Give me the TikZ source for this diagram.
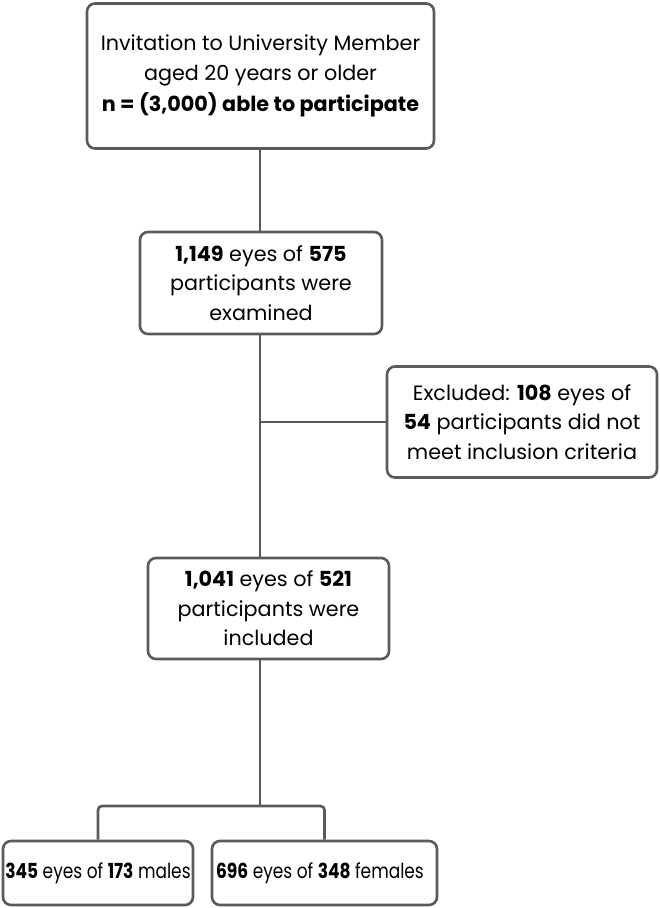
\documentclass[tikz,border=0pt]{standalone}
\usepackage{fontspec}
\usepackage{graphicx}
\setmainfont{Poppins}
\begin{document}
\begin{tikzpicture}[x=1bp,y=-1bp,
  box/.style={draw=linegray, line width=2.6bp, rounded corners=8bp, align=center,
    inner sep=0pt, font=\fontsize{20.8}{29.5}\selectfont, text=black},
  conn/.style={draw=linegray, line width=2.6bp}]
\definecolor{linegray}{HTML}{5A5A5A}
\useasboundingbox (0,0) rectangle (660,908);
\node[box, minimum width=347bp, minimum height=145bp] (b1) at (260.5,76)
  {Invitation to University Member\\aged 20 years or older\\[1.5bp]\textbf{n = (3,000) able to participate}};
\node[box, minimum width=242bp, minimum height=102bp] (b2) at (261,283)
  {\textbf{1,149} eyes of \textbf{575}\\participants were\\examined};
\node[box, minimum width=270bp, minimum height=111bp] (ex) at (522,422)
  {Excluded: \textbf{108} eyes of\\\textbf{54} participants did not\\meet inclusion criteria};
\node[box, minimum width=241bp, minimum height=101bp] (b4) at (268.5,608.5)
  {\textbf{1,041} eyes of \textbf{521}\\participants were\\included};
\node[box, minimum width=190bp, minimum height=64bp] (m) at (98,873)
  {\scalebox{0.82}[1]{\textbf{345} eyes of \textbf{173} males}};
\node[box, minimum width=225bp, minimum height=64bp] (f) at (324.5,873)
  {\scalebox{0.82}[1]{\textbf{696} eyes of \textbf{348} females}\hspace{9bp}};
\coordinate (tx) at (260,0);
\coordinate (split) at (260,806);
\draw[conn] (b1.south -| tx) -- (b2.north -| tx);
\draw[conn] (b2.south -| tx) -- (b4.north -| tx);
\draw[conn] (ex.west -| tx) -- (ex.west);
\draw[conn] (b4.south -| tx) -- (split);
\draw[conn, rounded corners=4bp] (m.north) -- (m.north |- split) -- (f.north |- split) -- (f.north);
\end{tikzpicture}
\end{document}
